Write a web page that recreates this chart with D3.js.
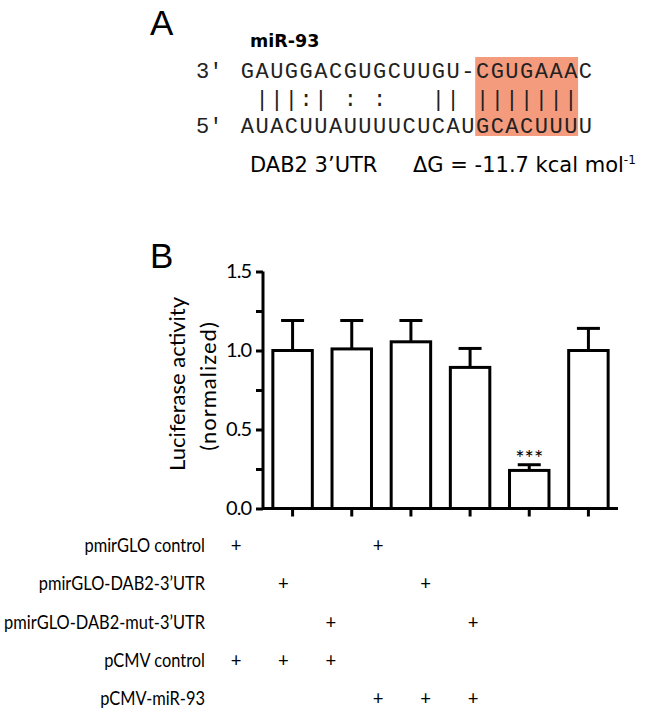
<!DOCTYPE html>
<html>
<head>
<meta charset="utf-8">
<script src="https://cdn.jsdelivr.net/npm/d3@7"></script>
<style>
  body { margin: 0; background: #fff; }
  svg { display: block; }
</style>
</head>
<body>
<div class="fig"></div>
<script>
// panel A: miR-93 / DAB2 3'UTR pairing
var mirSeq = "GAUGGACGUGCUUGU-CGUGAAAC";
var utrSeq = "AUACUUAUUUUCUCAUGCACUUUU";
var pairs  = " |||:| : :   || ||||||| ";
var seedCols = [16, 22];

// panel B: luciferase assay
var groups = ["g1", "g2", "g3", "g4", "g5", "g6"];
var means = [1.00, 1.01, 1.055, 0.893, 0.241, 1.00];
var sems = [0.19, 0.18, 0.135, 0.12, 0.036, 0.14];
var yTicks = [0, 0.5, 1.0, 1.5];
var yMinor = [0.25, 0.75, 1.25];
var signif = ["", "", "", "", "***", ""];

var rowLabels = ["pmirGLO control", "pmirGLO-DAB2-3\u2019UTR", "pmirGLO-DAB2-mut-3\u2019UTR", "pCMV control", "pCMV-miR-93"];
var plus = [
    [1, 0, 0, 1, 0, 0],
    [0, 1, 0, 0, 1, 0],
    [0, 0, 1, 0, 0, 1],
    [1, 1, 1, 0, 0, 0],
    [0, 0, 0, 1, 1, 1]
];

var svg = d3.select(".fig").append("svg")
    .attr("width", 649)
    .attr("height", 716);

// ---------- panel A ----------
var A = svg.append("g");

A.append("text")
    .attr("x", 150).attr("y", 35)
    .attr("font-family", "Liberation Sans, Arial, sans-serif")
    .attr("font-size", 35)
    .text("A");

A.append("text")
    .attr("x", 250).attr("y", 47)
    .attr("font-family", "DejaVu Sans, sans-serif")
    .attr("font-weight", "bold")
    .attr("font-size", 17.5)
    .text("miR-93");

var col = d3.scaleBand()
    .domain(d3.range(mirSeq.length))
    .range([240, 240 + 14.7 * mirSeq.length]);

A.append("rect")
    .attr("x", col(seedCols[0]))
    .attr("y", 57)
    .attr("width", col(seedCols[1]) + col.bandwidth() - col(seedCols[0]))
    .attr("height", 79)
    .attr("fill", "#f49b7e");

var seqRows = [
    { seq: mirSeq, y: 78, prime: "3\u2032" },
    { seq: pairs, y: 106, prime: "" },
    { seq: utrSeq, y: 133, prime: "5\u2032" }
];

seqRows.forEach(function(r) {
    A.append("text")
        .attr("x", 196).attr("y", r.y)
        .attr("font-family", "Liberation Mono, monospace")
        .attr("font-size", 22)
        .attr("fill", "#222")
        .text(r.prime);

    A.selectAll(null)
        .data(r.seq.split(""))
        .enter().append("text")
        .attr("x", function(d, i) { return col(i) + col.bandwidth() / 2; })
        .attr("y", r.y)
        .attr("text-anchor", "middle")
        .attr("font-family", "Liberation Mono, monospace")
        .attr("font-size", 22)
        .attr("fill", "#222")
        .text(function(d) { return d; });
});

A.append("text")
    .attr("x", 250).attr("y", 172)
    .attr("font-family", "DejaVu Sans, sans-serif")
    .attr("font-size", 21)
    .text("DAB2 3\u2019UTR");

var dg = A.append("text")
    .attr("x", 413).attr("y", 172)
    .attr("font-family", "DejaVu Sans, sans-serif")
    .attr("font-size", 21);
dg.append("tspan").text("\u0394G = -11.7 kcal mol");
dg.append("tspan").attr("font-size", 12).attr("dy", -8).text("-1");

// ---------- panel B ----------
svg.append("text")
    .attr("x", 150).attr("y", 268)
    .attr("font-family", "Liberation Sans, Arial, sans-serif")
    .attr("font-size", 35)
    .text("B");

var x = d3.scaleBand()
    .domain(groups)
    .range([263, 618])
    .paddingInner(0.333)
    .paddingOuter(0.1665);

var y = d3.scaleLinear()
    .domain([0, 1.5])
    .range([508.5, 271.5]);

var B = svg.append("g");

var bars = B.selectAll(".bar")
    .data(groups)
    .enter().append("g")
    .attr("class", "bar");

// error bars (upper only)
bars.append("line")
    .attr("x1", function(d) { return x(d) + x.bandwidth() / 2; })
    .attr("x2", function(d) { return x(d) + x.bandwidth() / 2; })
    .attr("y1", function(d, i) { return y(means[i]); })
    .attr("y2", function(d, i) { return y(means[i] + sems[i]); })
    .attr("stroke", "#000").attr("stroke-width", 3);

bars.append("line")
    .attr("x1", function(d) { return x(d) + x.bandwidth() / 2 - 11.5; })
    .attr("x2", function(d) { return x(d) + x.bandwidth() / 2 + 11.5; })
    .attr("y1", function(d, i) { return y(means[i] + sems[i]); })
    .attr("y2", function(d, i) { return y(means[i] + sems[i]); })
    .attr("stroke", "#000").attr("stroke-width", 3);

bars.append("rect")
    .attr("x", function(d) { return x(d); })
    .attr("y", function(d, i) { return y(means[i]); })
    .attr("width", x.bandwidth())
    .attr("height", function(d, i) { return y(0) - y(means[i]); })
    .attr("fill", "#fff")
    .attr("stroke", "#000")
    .attr("stroke-width", 3);

bars.append("text")
    .attr("x", function(d) { return x(d) + x.bandwidth() / 2; })
    .attr("y", function(d, i) { return y(means[i] + sems[i]) + 1; })
    .attr("text-anchor", "middle")
    .attr("font-family", "Lato, sans-serif")
    .attr("font-size", 22)
    .text(function(d, i) { return signif[i]; });

// y axis
var yAxis = d3.axisLeft(y)
    .tickValues(yTicks)
    .tickSize(7)
    .tickPadding(5)
    .tickFormat(d3.format(".1f"));

var gy = B.append("g")
    .attr("transform", "translate(263,0)")
    .call(yAxis);
gy.select(".domain").attr("d", "M0," + y(1.5) + "V" + y(0)).attr("stroke-width", 3);
gy.selectAll(".tick line").attr("stroke-width", 3);
gy.selectAll(".tick text")
    .attr("font-family", "Lato, sans-serif")
    .attr("font-size", 20)
    .attr("letter-spacing", -1)
    .attr("fill", "#000");

B.append("g")
    .attr("transform", "translate(263,0)")
    .call(d3.axisLeft(y).tickValues(yMinor).tickSize(7).tickFormat(""))
    .call(function(g) {
        g.select(".domain").remove();
        g.selectAll(".tick line").attr("stroke-width", 3);
    });

// x axis
var gx = B.append("g")
    .attr("transform", "translate(0," + y(0) + ")")
    .call(d3.axisBottom(x).tickSize(8).tickFormat(""));
gx.select(".domain").attr("d", "M263,0H618").attr("stroke-width", 3);
gx.selectAll(".tick line").attr("stroke-width", 3);

// y title
var yt = B.append("text")
    .attr("transform", "translate(185,384) rotate(-90)")
    .attr("text-anchor", "middle")
    .attr("font-family", "Lato, sans-serif")
    .attr("font-size", 22);
yt.append("tspan").attr("x", 0).attr("dy", 0).text("Luciferase activity");
yt.append("tspan").attr("x", -2).attr("dy", 31).attr("letter-spacing", 1).text("(normalized)");

// ---------- condition table ----------
var cx = d3.scalePoint()
    .domain(groups)
    .range([236, 473]);

var ry = d3.scalePoint()
    .domain(rowLabels)
    .range([552, 705]);

var T = svg.append("g")
    .attr("font-family", "Lato, sans-serif")
    .attr("font-size", 18.5);

var labs = T.selectAll(".rowlab")
    .data(rowLabels)
    .enter().append("text")
    .attr("class", "rowlab")
    .attr("text-anchor", "end")
    .text(function(d) { return d; });

// squeeze the labels horizontally so the longest one fits (narrow font in the original)
var widest = d3.max(labs.nodes(), function(n) { return n.getComputedTextLength(); });
var sx = 201 / widest;
labs.attr("transform", function(d) { return "translate(205," + ry(d) + ") scale(" + sx + ",1)"; });

rowLabels.forEach(function(r, ri) {
    T.selectAll(null)
        .data(groups.filter(function(g, gi) { return plus[ri][gi]; }))
        .enter().append("text")
        .attr("x", function(d) { return cx(d); })
        .attr("y", ry(r))
        .attr("text-anchor", "middle")
        .text("+");
});
</script>
</body>
</html>
